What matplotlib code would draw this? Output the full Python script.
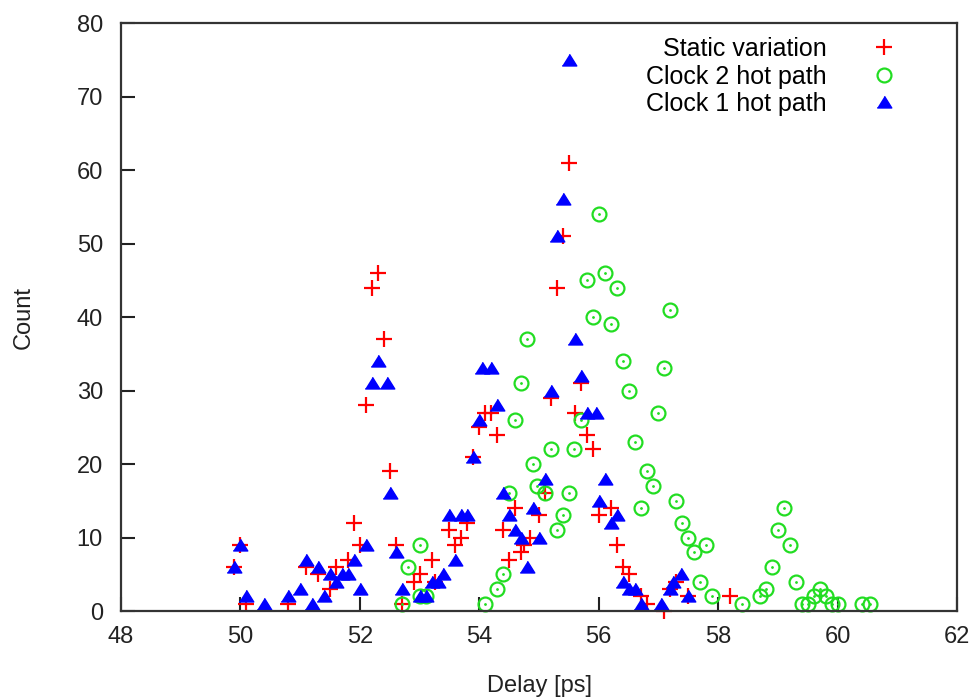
import matplotlib
matplotlib.use("Agg")
import matplotlib.pyplot as plt

plt.rcParams['font.family'] = ['Liberation Sans', 'DejaVu Sans']

# Static variation
static_x = [49.9, 50.0, 50.1, 50.8, 51.1, 51.3, 51.5, 51.6, 51.8, 51.9,
            52.0, 52.1, 52.2, 52.3, 52.4, 52.5, 52.6, 52.7, 52.9, 53.0,
            53.2, 53.25, 53.5, 53.6, 53.7, 53.8, 53.9, 54.0, 54.1, 54.2,
            54.3, 54.4, 54.5, 54.6, 54.7, 54.75, 54.85, 55.0, 55.1, 55.2,
            55.3, 55.4, 55.5, 55.6, 55.7, 55.8, 55.9, 56.0, 56.2, 56.3,
            56.4, 56.5, 56.7, 56.8, 57.1, 57.2, 57.3, 57.5, 58.2]
static_y = [6, 9, 1, 1, 6, 5, 3, 6, 7, 12,
            9, 28, 44, 46, 37, 19, 9, 1, 4, 5,
            7, 4, 11, 9, 10, 12, 21, 25, 27, 27,
            24, 11, 7, 14, 8, 9, 10, 13, 16, 29,
            44, 51, 61, 27, 31, 24, 22, 13, 14, 9,
            6, 5, 2, 1, 0, 3, 4, 2, 2]

# Clock 2 hot path
clk2_x = [52.7, 52.8, 53.0, 53.0, 53.1, 54.1, 54.3, 54.4, 54.5, 54.6,
          54.7, 54.8, 54.9, 54.97, 55.1, 55.2, 55.3, 55.4, 55.5, 55.58,
          55.7, 55.8, 55.9, 56.0, 56.1, 56.2, 56.3, 56.4, 56.5, 56.6,
          56.7, 56.8, 56.9, 57.0, 57.1, 57.2, 57.3, 57.4, 57.5, 57.6,
          57.7, 57.8, 57.9, 58.4, 58.7, 58.8, 58.9, 59.0, 59.1, 59.2,
          59.3, 59.4, 59.5, 59.6, 59.7, 59.8, 59.9, 60.0, 60.4, 60.55]
clk2_y = [1, 6, 9, 2, 2, 1, 3, 5, 16, 26,
          31, 37, 20, 17, 16, 22, 11, 13, 16, 22,
          26, 45, 40, 54, 46, 39, 44, 34, 30, 23,
          14, 19, 17, 27, 33, 41, 15, 12, 10, 8,
          4, 9, 2, 1, 2, 3, 6, 11, 14, 9,
          4, 1, 1, 2, 3, 2, 1, 1, 1, 1]

# Clock 1 hot path
clk1_x = [49.9, 50.0, 50.1, 50.4, 50.8, 51.0, 51.1, 51.2, 51.3, 51.4,
          51.5, 51.6, 51.7, 51.8, 51.9, 52.0, 52.1, 52.2, 52.3, 52.45,
          52.5, 52.6, 52.7, 53.0, 53.1, 53.2, 53.3, 53.4, 53.5, 53.6,
          53.7, 53.8, 53.9, 54.0, 54.05, 54.2, 54.3, 54.4, 54.5, 54.6,
          54.7, 54.8, 54.9, 55.0, 55.1, 55.2, 55.3, 55.4, 55.5, 55.6,
          55.7, 55.8, 55.95, 56.0, 56.1, 56.2, 56.3, 56.4, 56.5, 56.6,
          56.7, 57.05, 57.2, 57.25, 57.38, 57.5]
clk1_y = [6, 9, 2, 1, 2, 3, 7, 1, 6, 2,
          5, 4, 5, 5, 7, 3, 9, 31, 34, 31,
          16, 8, 3, 2, 2, 4, 4, 5, 13, 7,
          13, 13, 21, 26, 33, 33, 28, 16, 13, 11,
          10, 6, 14, 10, 18, 30, 51, 56, 75, 37,
          32, 27, 27, 15, 18, 12, 13, 4, 3, 3,
          1, 1, 3, 4, 5, 2]

x_ticks = [48, 50, 52, 54, 56, 58, 60, 62]
y_ticks = [0, 10, 20, 30, 40, 50, 60, 70, 80]

fig = plt.figure(figsize=(9.79, 6.98), dpi=100)
ax = fig.add_axes([0.1236, 0.1246, 0.854, 0.8424])

tri = [(-1, -0.75), (1, -0.75), (0, 0.85)]

ax.plot(static_x, static_y, linestyle='none', marker='+', color='#ff0000',
        markersize=11.5, markeredgewidth=1.6, label='Static variation', clip_on=False)
ax.plot(clk2_x, clk2_y, linestyle='none', marker='o', markerfacecolor='none',
        markeredgecolor='#22dd22', markersize=10, markeredgewidth=1.6,
        label='Clock 2 hot path', clip_on=False)
ax.plot(clk2_x, clk2_y, linestyle='none', marker='.', color='#22dd22',
        markersize=2, clip_on=False)
ax.plot(clk1_x, clk1_y, linestyle='none', marker=tri, color='#0000ff',
        markersize=10.5, label='Clock 1 hot path', clip_on=False)

ax.set_xlim(48, 62)
ax.set_ylim(0, 80)
ax.set_xticks(x_ticks)
ax.set_yticks(y_ticks)
ax.tick_params(direction='in', length=10, width=1.5, labelsize=17,
               colors='#222222')
ax.tick_params(axis='x', pad=11)
ax.tick_params(axis='y', pad=13)
for s in ax.spines.values():
    s.set_linewidth(1.6)
    s.set_color('#333333')

ax.set_xlabel('Delay [ps]', fontsize=17, labelpad=19, color='#222222')
ax.set_ylabel('Count', fontsize=17, labelpad=30, color='#222222')

h, l = ax.get_legend_handles_labels()
ax.legend(h, l, loc='upper right', bbox_to_anchor=(0.967, 1.006), frameon=False,
          markerfirst=False, fontsize=18, labelspacing=0.14, handlelength=2.2,
          handletextpad=1.2, borderaxespad=0.3)

fig.savefig('out.png', dpi=100)
